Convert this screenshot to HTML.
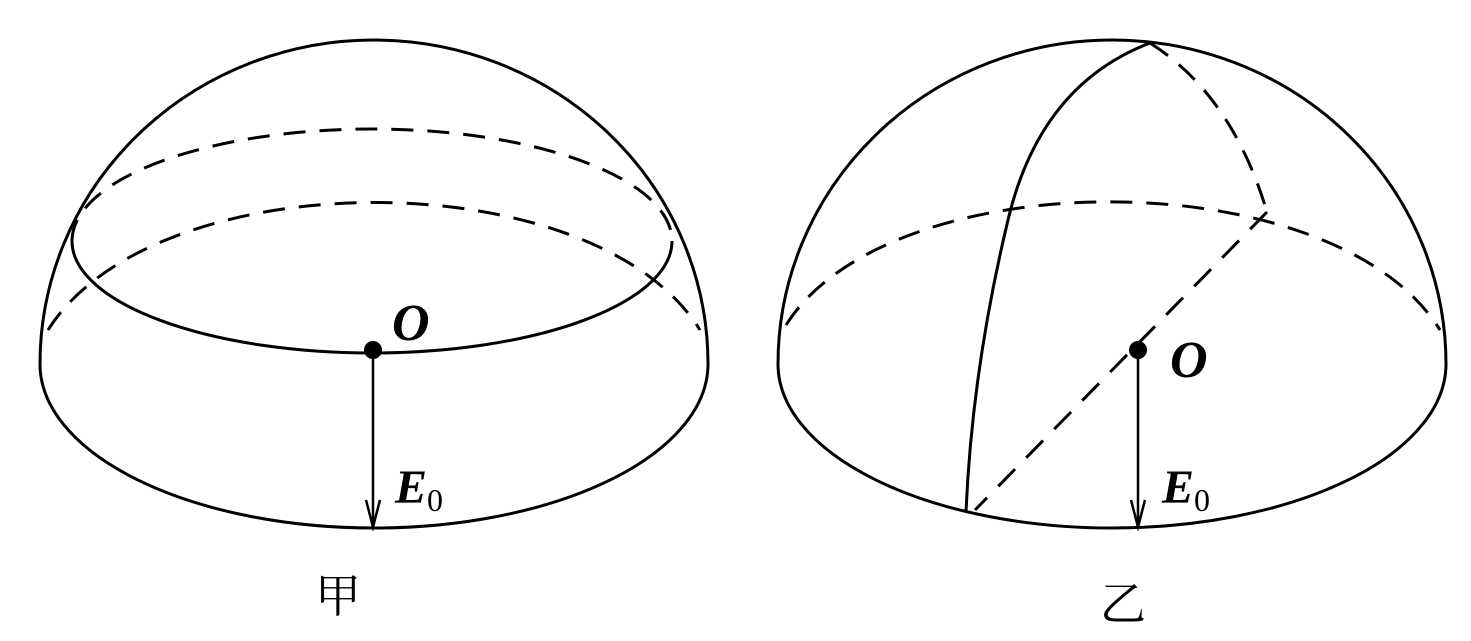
<!DOCTYPE html>
<html><head><meta charset="utf-8"><style>
html,body{margin:0;padding:0;background:#fff;}
svg{display:block;}
text{font-family:"Liberation Serif","Noto Serif CJK SC",serif;}
</style></head><body>
<svg width="1471" height="641" viewBox="0 0 1471 641" xmlns="http://www.w3.org/2000/svg">
<g fill="none" stroke="#000" stroke-width="3">
<path d="M40,364 A334,324 0 0 1 708,364"/>
<path d="M40,364 A334,164 0 0 0 708,364"/>
<path stroke-dasharray="22,14" d="M48,330 C155,160 595,160 700,330"/>
<path d="M72,241 A300,112 0 0 0 672,241"/>
<path stroke-dasharray="22,14" d="M72,241 A300,112 0 0 1 672,241"/>
<line x1="373" y1="350" x2="373" y2="526" stroke-width="2.5"/>
<path d="M366,500 L373,527 L380,500" stroke-width="2.5"/>
</g>
<circle cx="373" cy="350" r="9" fill="#000"/>
<text x="392" y="340" font-size="52" font-style="italic" font-weight="bold">O</text>
<text x="395" y="503" font-size="48" font-style="italic" font-weight="bold">E<tspan font-size="32" font-style="normal" font-weight="normal" dy="8">0</tspan></text>
<text x="315" y="612" font-size="46">甲</text>

<g fill="none" stroke="#000" stroke-width="3">
<path d="M778,364 A334,324 0 0 1 1446,364"/>
<path d="M778,364 A334,164 0 0 0 1446,364"/>
<path stroke-dasharray="22,14" d="M786,325 C890,160 1335,160 1440,330"/>
<path d="M1150,43 Q1040,85 1008,220 Q972,370 966,512"/>
<path stroke-dasharray="22,14" d="M1150,43 Q1232,95 1267,212"/>
<line x1="1267" y1="212" x2="975" y2="510" stroke-dasharray="24,16"/>
<line x1="1138" y1="350" x2="1138" y2="526" stroke-width="2.5"/>
<path d="M1131,500 L1138,527 L1145,500" stroke-width="2.5"/>
</g>
<circle cx="1138" cy="350" r="9" fill="#000"/>
<text x="1170" y="377" font-size="52" font-style="italic" font-weight="bold">O</text>
<text x="1162" y="503" font-size="48" font-style="italic" font-weight="bold">E<tspan font-size="32" font-style="normal" font-weight="normal" dy="8">0</tspan></text>
<text x="1100" y="620" font-size="46">乙</text>
</svg>
</body></html>
